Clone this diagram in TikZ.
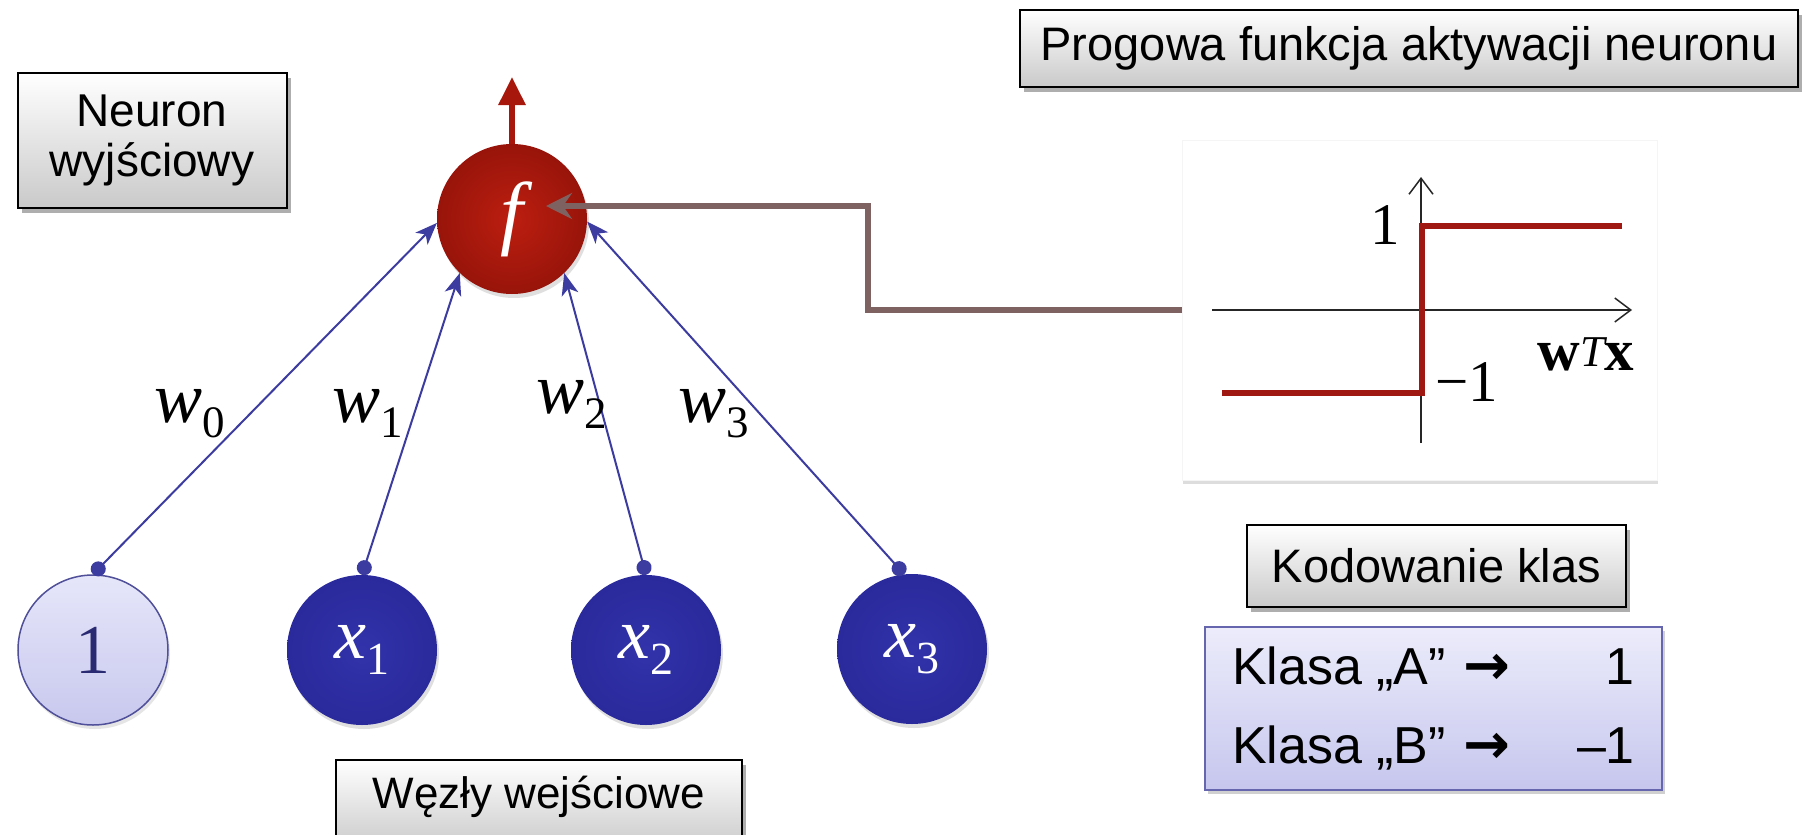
\documentclass[tikz,border=0pt]{standalone}
\usepackage{fontspec}
\setmainfont{Liberation Sans}
\newfontfamily\tms{Liberation Serif}
\newfontfamily\djv{DejaVu Sans}
\usetikzlibrary{shadows,arrows.meta,calc}

\definecolor{neured}{HTML}{A8170C}
\definecolor{neuredin}{HTML}{BC1E10}
\definecolor{neuredout}{HTML}{98140A}
\definecolor{inblue}{HTML}{2A2A9C}
\definecolor{inbluein}{HTML}{3232AA}
\definecolor{edgeblue}{HTML}{3C3CA0}
\definecolor{fbbrown}{HTML}{7E6262}
\definecolor{stepred}{HTML}{A01812}
\definecolor{lilactop}{HTML}{ECECFB}
\definecolor{lilacbot}{HTML}{C6C6EE}
\definecolor{lilacline}{HTML}{6666AE}
\definecolor{onetop}{HTML}{E6E6FA}
\definecolor{onebot}{HTML}{C8C8EE}
\definecolor{oneline}{HTML}{50509A}
\definecolor{onetext}{HTML}{2A2A72}

% italic variable with an upright subscript: letter, index, size, index size
\newcommand\subvar[4]{{\tms\fontsize{#3}{#3}\selectfont\itshape #1}{\tms\fontsize{#4}{#4}\selectfont\raisebox{-0.35em}{#2}}}

\begin{document}
\begin{tikzpicture}[x=1pt,y=-1pt,
  graybox/.style={draw=black, line width=2pt, top color=white, bottom color=black!21,
    inner sep=0pt, drop shadow={shadow xshift=4pt, shadow yshift=-5pt, opacity=0.45, fill=black!70}},
  lilacbox/.style={draw=lilacline, line width=1.8pt, top color=lilactop, bottom color=lilacbot,
    inner sep=0pt, drop shadow={shadow xshift=3pt, shadow yshift=-4pt, opacity=0.3, fill=black!60}},
  chartbox/.style={draw=black!4, fill=white, line width=0.8pt,
    drop shadow={shadow xshift=1pt, shadow yshift=-4pt, opacity=0.22, fill=black!60}},
  neuron/.style={circle, minimum size=150pt, inner sep=0pt, inner color=neuredin, outer color=neuredout,
    text=white, drop shadow={shadow xshift=2pt, shadow yshift=-4pt, opacity=0.25}},
  inpt/.style={circle, minimum size=150pt, inner sep=0pt, inner color=inbluein, outer color=inblue,
    text=white, drop shadow={shadow xshift=2pt, shadow yshift=-4pt, opacity=0.25}},
  onein/.style={circle, minimum size=150pt, inner sep=0pt, top color=onetop, bottom color=onebot,
    draw=oneline, line width=1.5pt, text=onetext,
    drop shadow={shadow xshift=2pt, shadow yshift=-4pt, opacity=0.2}},
  wlink/.style={draw=edgeblue, line width=2pt,
    {Circle[length=15pt,width=15pt]}-{Stealth[length=22pt,width=17pt,inset=6pt]}},
  outarr/.style={draw=neured, line width=6pt, -{Triangle[length=28pt,width=26pt]}},
  fbarr/.style={draw=fbbrown, line width=5.5pt, -{Stealth[length=26pt,width=26pt,inset=9pt]}},
  axisln/.style={draw=black!85, line width=1.5pt, -{Straight Barb[length=16pt,width=24pt]}},
  stepline/.style={draw=stepred, line width=5.5pt, line join=miter},
  ticklbl/.style={inner sep=0pt, font=\tms\fontsize{59}{59}\selectfont},
  wlbl/.style={inner sep=0pt, anchor=base west}
]
\useasboundingbox (0,0) rectangle (1802,835);
\clip (0,0) rectangle (1802,835);
\fill[white] (0,0) rectangle (1802,835);

% caption boxes
\node[graybox, minimum width=269pt, minimum height=135pt, align=center,
  font=\fontsize{46}{50}\selectfont] (outlbl) at (152,140.5) {Neuron\\wyjściowy};
\node[graybox, minimum width=778pt, minimum height=77pt,
  font=\fontsize{47}{52}\selectfont] (actlbl) at (1409,48.5) {Progowa funkcja aktywacji neuronu};
\node[graybox, minimum width=379pt, minimum height=82pt,
  font=\fontsize{47}{52}\selectfont] (codlbl) at (1436.5,566) {Kodowanie klas};
\node[graybox, anchor=base, minimum width=406pt, text height=48pt, text depth=42pt,
  font=\fontsize{44}{48}\selectfont] (inlbl) at (539,808) {Węzły wejściowe};

% class coding table
\node[lilacbox, minimum width=457pt, minimum height=163pt,
  font=\fontsize{52}{79}\selectfont] (classes) at (1433.5,708.5)
  {\begin{tabular}{@{}l@{\hspace{18pt}}l@{}r@{}}
    Klasa „A” & {\djv\bfseries\fontsize{56}{79}\selectfont →} & \makebox[124pt][r]{1}\\
    Klasa „B” & {\djv\bfseries\fontsize{56}{79}\selectfont →} & \makebox[124pt][r]{–1}
  \end{tabular}};

% threshold activation plot
\node[chartbox, minimum width=475pt, minimum height=340pt] (chart) at (1419.5,310) {};
\draw[axisln] (1212,310) -- (1632,310);
\draw[axisln] (1421,443) -- (1421,177);
\draw[stepline] (1222,393) -- (1422,393) -- (1422,226) -- (1622,226);
\node[ticklbl] (one) at (1385,225) {1};
\node[ticklbl] (mone) at (1467,382) {−1};
\node[inner sep=0pt] (wtx) at (1586,354)
  {{\tms\bfseries\fontsize{59}{59}\selectfont w}\raisebox{0.4em}{\tms\itshape\fontsize{44}{44}\selectfont T}{\tms\bfseries\fontsize{59}{59}\selectfont x}};

% output neuron
\node[neuron] (fN) at (512,219) {\tms\fontsize{82}{82}\selectfont\itshape f};
\coordinate (otop) at (512,77);
\draw[outarr] (fN.north) -- (otop);

% input nodes
\node[onein] (i0) at (93,650) {\tms\fontsize{70}{70}\selectfont 1};
\node[inpt] (i1) at (362,650) {\subvar{x}{1}{72}{46}};
\node[inpt] (i2) at (646,650) {\subvar{x}{2}{72}{46}};
\node[inpt] (i3) at (912,649) {\subvar{x}{3}{72}{46}};

% weighted connections
\draw[wlink] (i0.north) -- (fN.183);
\draw[wlink] (i1.north) -- (fN.226);
\draw[wlink] (i2.north) -- (fN.314);
\draw[wlink] (i3.96) -- (fN.358);

\node[wlbl] (lw0) at (154,422) {\subvar{w}{0}{72}{45}};
\node[wlbl] (lw1) at (332,422) {\subvar{w}{1}{72}{45}};
\node[wlbl] (lw2) at (536,413) {\subvar{w}{2}{72}{45}};
\node[wlbl] (lw3) at (678,422) {\subvar{w}{3}{72}{45}};

% activation function feeds the neuron
\coordinate (fbc) at (868,206);
\coordinate (ftip) at (546,206);
\draw[fbarr] (chart.west) -| (fbc) -- (ftip);
\end{tikzpicture}
\end{document}
